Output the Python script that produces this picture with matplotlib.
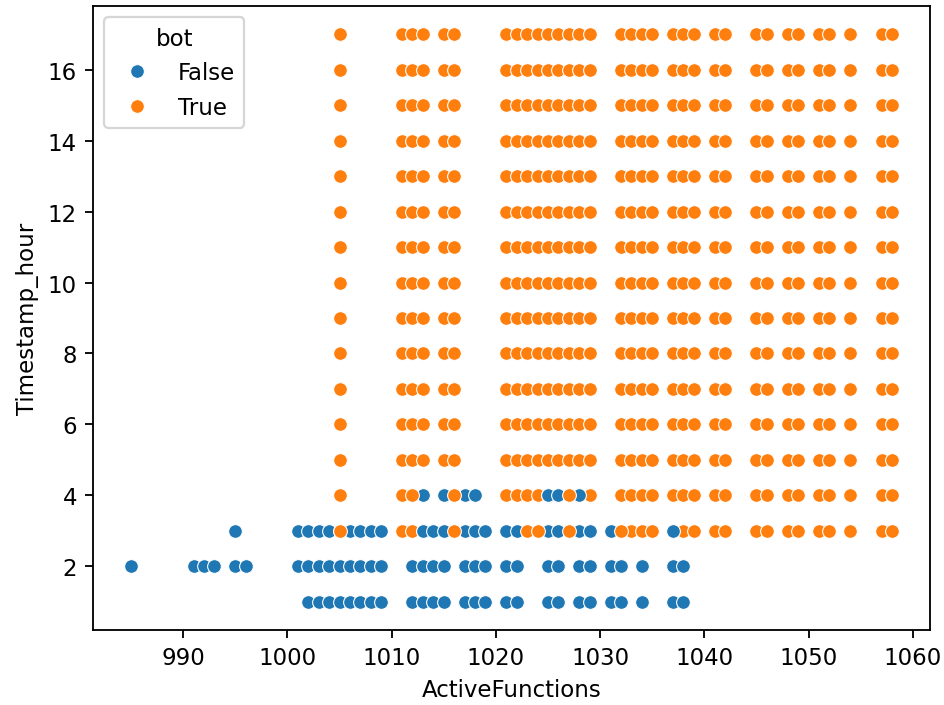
import matplotlib
matplotlib.use("Agg")
import matplotlib.pyplot as plt
from matplotlib.lines import Line2D

# ---------------- data ----------------
# ActiveFunctions values of bot=True points (same columns on every hour 3..17)
true_hours = [3, 4, 5, 6, 7, 8, 9, 10, 11, 12, 13, 14, 15, 16, 17]
true_x = [1005, 1011, 1012, 1013, 1015, 1016,
          1021, 1022, 1023, 1024, 1025, 1026, 1027, 1028, 1029,
          1032, 1033, 1034, 1035, 1037, 1038, 1039, 1041, 1042,
          1045, 1046, 1048, 1049, 1051, 1052, 1054, 1057, 1058]

# bot=False points per hour
false_h1 = [1002, 1003, 1004, 1005, 1006, 1007, 1008, 1009,
            1012, 1013, 1014, 1015, 1017, 1018, 1019, 1021, 1022,
            1025, 1026, 1028, 1029, 1031, 1032, 1034, 1037, 1038]
false_h2 = [985, 991, 992, 993, 995, 996,
            1001, 1002, 1003, 1004, 1005, 1006, 1007, 1008, 1009,
            1012, 1013, 1014, 1015, 1017, 1018, 1019, 1021, 1022,
            1025, 1026, 1028, 1029, 1031, 1032, 1034, 1037, 1038]
false_h3 = [995, 1001, 1002, 1003, 1004, 1005, 1006, 1007, 1008, 1009,
            1013, 1014, 1015, 1017, 1018, 1019, 1021, 1022,
            1025, 1026, 1028, 1029, 1031, 1037]
false_h4 = [1013, 1015, 1017, 1018, 1025, 1026, 1028]

x_ticks = [990, 1000, 1010, 1020, 1030, 1040, 1050, 1060]
y_ticks = [2, 4, 6, 8, 10, 12, 14, 16]

# drawing order only: these bot=True points are drawn over the bot=False ones
true_drawn_last = {(3, 1005), (3, 1016), (3, 1023), (3, 1024), (3, 1027),
                   (3, 1032), (4, 1012), (4, 1016), (4, 1027)}

# ---------------- figure ----------------
DPI = 165
W, H = 944, 706
fig = plt.figure(figsize=(W / DPI, H / DPI), dpi=DPI)
ax = fig.add_axes([93 / W, 75 / H, 837 / W, 624 / H])

c_false = "#1f77b4"
c_true = "#ff7f0e"
kw = dict(s=36, edgecolors="white", linewidths=0.48)

tx, ty, tx2, ty2 = [], [], [], []
for h in true_hours:
    for v in true_x:
        if (h, v) in true_drawn_last:
            tx2.append(v)
            ty2.append(h)
        else:
            tx.append(v)
            ty.append(h)
fx, fy = [], []
for h, row in zip([1, 2, 3, 4], [false_h1, false_h2, false_h3, false_h4]):
    for v in row:
        fx.append(v)
        fy.append(h)

ax.scatter(tx, ty, color=c_true, **kw)
ax.scatter(fx, fy, color=c_false, **kw)
ax.scatter(tx2, ty2, color=c_true, **kw)

ax.set_xticks(x_ticks)
ax.set_yticks(y_ticks)
ax.set_xlabel("ActiveFunctions")
ax.set_ylabel("Timestamp_hour")

handles = [
    Line2D([], [], marker="o", linestyle="none", markerfacecolor=c_false,
           markeredgecolor="white", markeredgewidth=0.48, markersize=6),
    Line2D([], [], marker="o", linestyle="none", markerfacecolor=c_true,
           markeredgecolor="white", markeredgewidth=0.48, markersize=6),
]
ax.legend(handles, ["False", "True"], title="bot", loc="upper left")

fig.savefig("out.png", dpi=DPI)
